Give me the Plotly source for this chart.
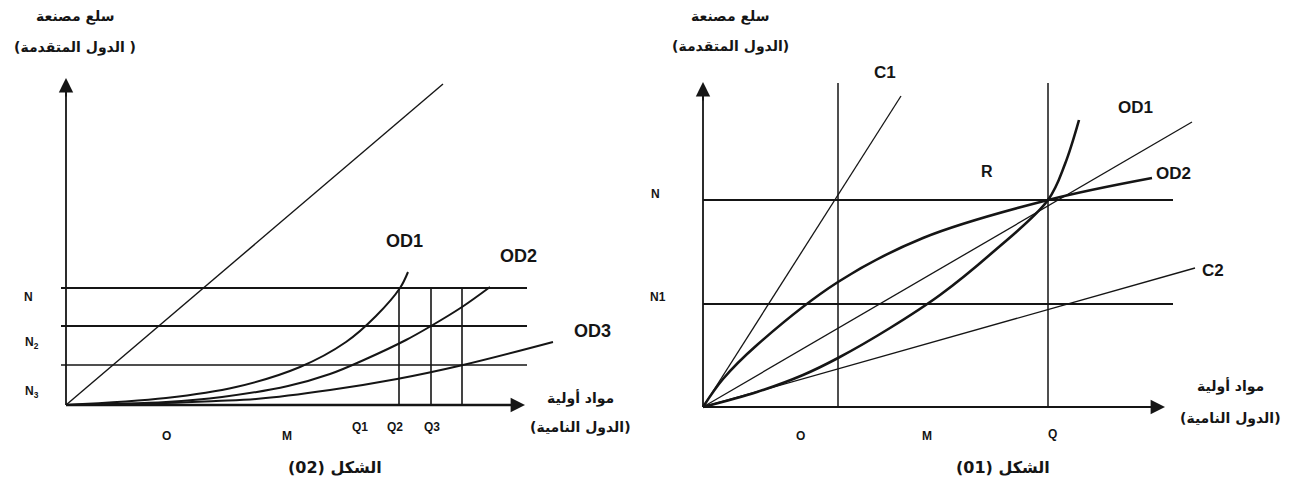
import plotly.graph_objects as go

# ---------------- Figure (02) – left panel (units: chart units from origin) ----------------
L_levels = {"N": 117, "N2": 79, "N3": 40}          # horizontal levels
L_level_x = [-5, 461]
L_q_x = [333, 365, 396]                              # vertical lines Q1..Q3
L_q_top = 117
L_diag_x = [0, 377]
L_diag_y = [0, 321]
L_od1_x = [0, 100, 170, 234, 280, 310, 334, 342]
L_od1_y = [0, 7, 18, 38, 63, 89, 117, 133]
L_od2_x = [0, 100, 156, 222, 264, 300, 340, 365, 396, 424]
L_od2_y = [0, 3, 8, 19, 31, 46, 65, 79, 98, 118]
L_od3_x = [0, 100, 150, 190, 264, 331, 397, 487]
L_od3_y = [0, 2, 4, 6, 15, 26, 40, 63]
L_yaxis_top = 327
L_xaxis_end = 459

# ---------------- Figure (01) – right panel ----------------
R_levels = {"N": 207, "N1": 103}
R_level_x = [0, 470]
R_v_x = [135, 345]
R_v_top = 324
R_c1_x = [0, 198]
R_c1_y = [0, 311]
R_ray_x = [0, 489]
R_ray_y = [0, 285]
R_c2_x = [0, 492]
R_c2_y = [0, 139]
R_od1_x = [0, 54, 100, 135, 187, 237, 290, 345, 362, 376]
R_od1_y = [0, 15, 32, 49, 79, 112, 155, 207, 243, 287]
R_od2_x = [0, 20, 54, 135, 220, 345, 449]
R_od2_y = [0, 28, 62, 125, 169, 207, 229]
R_yaxis_top = 325
R_xaxis_end = 462

INK = "#151515"
RLM = "\u200F"
fig = go.Figure()


def line(x, y, w, ax="1", spline=False):
    xa = "x" if ax == "1" else "x2"
    ya = "y" if ax == "1" else "y2"
    fig.add_trace(go.Scatter(
        x=x, y=y, mode="lines",
        line=dict(color=INK, width=w, shape="spline" if spline else "linear", smoothing=1.0),
        xaxis=xa, yaxis=ya, hoverinfo="skip", showlegend=False))


# left panel
line([0, 0], [0, L_yaxis_top - 4], 1.8)
line([0, L_xaxis_end - 4], [0, 0], 2.6)
for k, v in L_levels.items():
    line(L_level_x, [v, v], 2.2 if k != "N3" else 1.6)
for q in L_q_x:
    line([q, q], [0, L_q_top], 1.6)
line(L_diag_x, L_diag_y, 1.4)
line(L_od1_x, L_od1_y, 2.0, spline=True)
line(L_od2_x, L_od2_y, 2.0, spline=True)
line(L_od3_x, L_od3_y, 2.0, spline=True)

# right panel
line([0, 0], [0, R_yaxis_top - 4], 1.8, "2")
line([0, R_xaxis_end - 4], [0, 0], 1.8, "2")
for k, v in R_levels.items():
    line(R_level_x, [v, v], 1.8, "2")
for q in R_v_x:
    line([q, q], [0, R_v_top], 1.5, "2")
line(R_c1_x, R_c1_y, 1.3, "2")
line(R_ray_x, R_ray_y, 1.3, "2")
line(R_c2_x, R_c2_y, 1.3, "2")
line(R_od1_x, R_od1_y, 2.6, "2", spline=True)
line(R_od2_x, R_od2_y, 2.6, "2", spline=True)

ann = []


def arrow(x, y, ax_, ay_, ref):
    ann.append(dict(x=x, y=y, ax=ax_, ay=ay_, xref="x" + ref, yref="y" + ref,
                    axref="x" + ref, ayref="y" + ref, text="", showarrow=True,
                    arrowhead=2, arrowsize=1.6, arrowwidth=1.8, arrowcolor=INK, standoff=0))


arrow(0, L_yaxis_top, 0, L_yaxis_top - 20, "")
arrow(L_xaxis_end, 0, L_xaxis_end - 20, 0, "")
arrow(0, R_yaxis_top, 0, R_yaxis_top - 20, "2")
arrow(R_xaxis_end, 0, R_xaxis_end - 20, 0, "2")

FONT = "Liberation Sans, Arial, DejaVu Sans, sans-serif"
AR = "DejaVu Sans, Noto Sans, sans-serif"


def txt(x, y, s, ref="", size=13, family=FONT):
    ann.append(dict(x=x, y=y, xref="x" + ref, yref="y" + ref, text=s, showarrow=False,
                    font=dict(family=family, size=size, color=INK), xanchor="center", yanchor="middle"))


# left labels
txt(9, 389, "<b>سلع مصنعة</b>", "", 14, AR)
txt(9, 358, "<b>" + RLM + "( الدول المتقدمة)" + RLM + "</b>", "", 14, AR)
txt(338, 164, "<b>OD1</b>", "", 18)
txt(452, 149, "<b>OD2</b>", "", 18)
txt(526, 74, "<b>OD3</b>", "", 18)
txt(-38, 108, "<b>N</b>", "", 12)
txt(-34, 62, "<b>N<sub>2</sub></b>", "", 12)
txt(-34, 13, "<b>N<sub>3</sub></b>", "", 12)
txt(100, -31, "<b>O</b>", "", 12)
txt(221, -31, "<b>M</b>", "", 12)
txt(294, -22, "<b>Q1</b>", "", 12)
txt(329, -22, "<b>Q2</b>", "", 12)
txt(366, -22, "<b>Q3</b>", "", 12)
txt(514, 7, "<b>مواد أولية</b>", "", 14, AR)
txt(514, -22, "<b>" + RLM + "(الدول النامية)" + RLM + "</b>", "", 14, AR)
txt(269, -62, "<b>" + RLM + "الشكل (02)" + RLM + "</b>", "", 16, AR)

# right labels
txt(27, 391, "<b>سلع مصنعة</b>", "2", 14, AR)
txt(27, 361, "<b>" + RLM + "(الدول المتقدمة)" + RLM + "</b>", "2", 14, AR)
txt(182, 335, "<b>C1</b>", "2", 17)
txt(432, 300, "<b>OD1</b>", "2", 17)
txt(284, 236, "<b>R</b>", "2", 16)
txt(470, 234, "<b>OD2</b>", "2", 17)
txt(510, 137, "<b>C2</b>", "2", 17)
txt(-48, 213, "<b>N</b>", "2", 12)
txt(-45, 110, "<b>N1</b>", "2", 12)
txt(97, -29, "<b>O</b>", "2", 12)
txt(224, -29, "<b>M</b>", "2", 12)
txt(349, -27, "<b>Q</b>", "2", 12)
txt(527, 21, "<b>مواد أولية</b>", "2", 14, AR)
txt(527, -11, "<b>" + RLM + "(الدول النامية)" + RLM + "</b>", "2", 14, AR)
txt(300, -60, "<b>" + RLM + "الشكل (01)" + RLM + "</b>", "2", 16, AR)

# The page body adds an 8px margin, so the ranges are offset by 8px to compensate.
hidden = dict(visible=False, showgrid=False, zeroline=False, fixedrange=True)
fig.update_layout(
    width=1290, height=494,
    margin=dict(l=0, r=0, t=0, b=0),
    paper_bgcolor="white", plot_bgcolor="white",
    xaxis=dict(domain=[0, 0.5], range=[-58, 587], **hidden),
    yaxis=dict(domain=[0, 1], range=[-97, 397], **hidden),
    xaxis2=dict(domain=[0.5, 1], range=[-50, 595], anchor="y2", **hidden),
    yaxis2=dict(domain=[0, 1], range=[-95, 399], anchor="x2", **hidden),
    annotations=ann,
    showlegend=False,
)

fig.write_html("out.html")
